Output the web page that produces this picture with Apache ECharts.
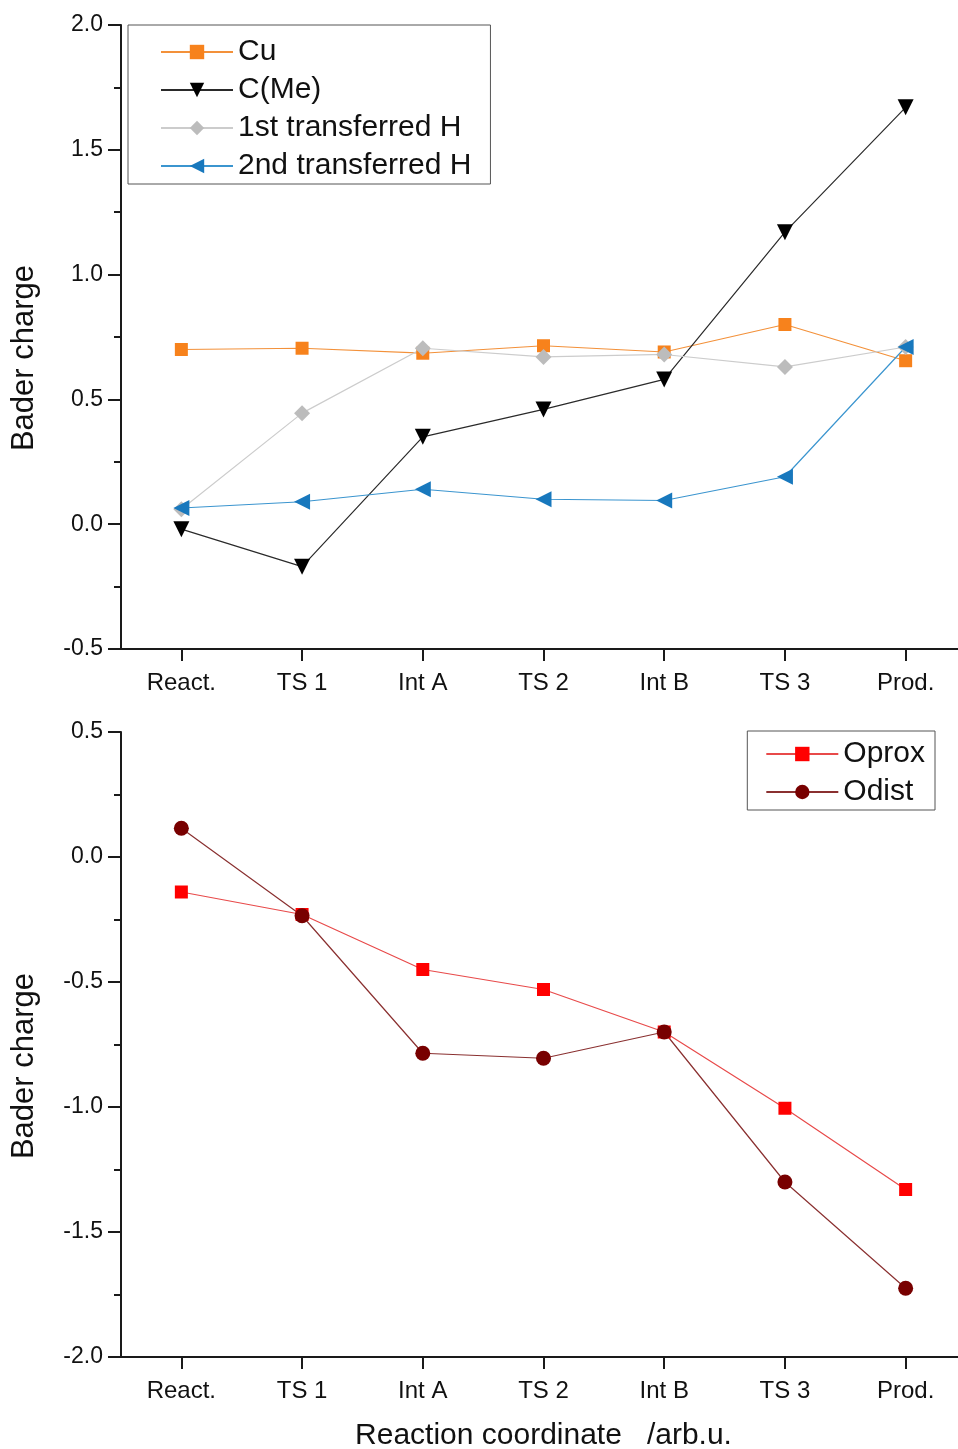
<!DOCTYPE html>
<html>
<head>
<meta charset="utf-8">
<script src="https://cdn.jsdelivr.net/npm/echarts@6/dist/echarts.min.js"></script>
<style>
html,body{margin:0;padding:0;background:#fff;}
#chart{width:958px;height:1449px;}
</style>
</head>
<body>
<div id="chart"></div>
<script>
const categories = ['React.', 'TS 1', 'Int A', 'TS 2', 'Int B', 'TS 3', 'Prod.'];
const cuValues   = [0.70, 0.705, 0.685, 0.715, 0.69, 0.80, 0.655];
const cMeValues  = [-0.02, -0.17, 0.35, 0.46, 0.58, 1.17, 1.67];
const h1Values   = [0.06, 0.445, 0.705, 0.67, 0.68, 0.63, 0.71];
const h2Values   = [0.065, 0.09, 0.14, 0.10, 0.095, 0.19, 0.71];
const oproxValues = [-0.14, -0.23, -0.45, -0.53, -0.70, -1.005, -1.33];
const odistValues = [0.115, -0.235, -0.785, -0.805, -0.70, -1.30, -1.725];
const topTicks = { min: -0.5, max: 2.0, interval: 0.5 };
const bottomTicks = { min: -2.0, max: 0.5, interval: 0.5 };

const FONT = '"Liberation Sans", Arial, sans-serif';
const AX = '#1a1a1a';

function xAxis(gridIndex) {
  return {
    type: 'category', gridIndex, data: categories, boundaryGap: true,
    axisLine: { show: true, onZero: false, lineStyle: { color: AX, width: 2 } },
    axisTick: { show: true, alignWithLabel: true, inside: false, length: 12, lineStyle: { color: AX, width: 2 } },
    axisLabel: { color: '#111', fontSize: 24, fontFamily: FONT, margin: 22 },
    splitLine: { show: false }
  };
}
function yAxis(gridIndex, t) {
  return {
    type: 'value', gridIndex, min: t.min, max: t.max, interval: t.interval,
    axisLine: { show: true, onZero: false, lineStyle: { color: AX, width: 2 } },
    axisTick: { show: true, inside: false, length: 13, lineStyle: { color: AX, width: 2 } },
    minorTick: { show: true, splitNumber: 2, length: 7, lineStyle: { color: AX, width: 2 } },
    axisLabel: { color: '#111', fontSize: 23, fontFamily: FONT, margin: 18, formatter: v => v.toFixed(1) },
    splitLine: { show: false }, minorSplitLine: { show: false }
  };
}
function lineSeries(name, data, idx, symbol, size, rotate, markerColor, lineColor) {
  return {
    name, type: 'line', data, xAxisIndex: idx, yAxisIndex: idx,
    symbol, symbolSize: size, symbolRotate: rotate, showAllSymbol: true,
    itemStyle: { color: markerColor, borderWidth: 0 },
    lineStyle: { color: lineColor, width: 1.2 },
    emphasis: { disabled: true }, z: 2
  };
}

const chart = echarts.init(document.getElementById('chart'), null, { renderer: 'canvas' });
chart.setOption({
  animation: false,
  backgroundColor: '#fff',
  textStyle: { fontFamily: FONT },
  grid: [
    { left: 121, top: 25, width: 845, height: 624, containLabel: false, outerBoundsMode: 'none' },
    { left: 121, top: 732, width: 845, height: 625, containLabel: false, outerBoundsMode: 'none' }
  ],
  xAxis: [
    xAxis(0),
    Object.assign(xAxis(1), {
      name: 'Reaction coordinate   /arb.u.', nameLocation: 'middle', nameGap: 64,
      nameTextStyle: { color: '#111', fontSize: 30, fontFamily: FONT }
    })
  ],
  yAxis: [yAxis(0, topTicks), yAxis(1, bottomTicks)],
  legend: [
    {
      orient: 'vertical', left: 128, top: 25,
      padding: [12, 19, 3, 32], borderColor: '#555', borderWidth: 1,
      itemWidth: 72, itemHeight: 18, itemGap: 8,
      textStyle: { fontSize: 30, fontFamily: FONT, color: '#111', lineHeight: 30 },
      data: ['Cu', 'C(Me)', '1st transferred H', '2nd transferred H']
    },
    {
      orient: 'vertical', right: 23, top: 731,
      padding: [8, 10, 3, 18], borderColor: '#555', borderWidth: 1,
      itemWidth: 72, itemHeight: 18, itemGap: 8,
      textStyle: { fontSize: 30, fontFamily: FONT, color: '#111', lineHeight: 30 },
      data: ['Oprox', 'Odist']
    }
  ],
  graphic: [
    { type: 'text', x: 24, y: 358, rotation: Math.PI / 2,
      style: { text: 'Bader charge', fontSize: 31, fontFamily: FONT, fill: '#111', align: 'center', verticalAlign: 'middle' } },
    { type: 'text', x: 24, y: 1066, rotation: Math.PI / 2,
      style: { text: 'Bader charge', fontSize: 31, fontFamily: FONT, fill: '#111', align: 'center', verticalAlign: 'middle' } }
  ],
  series: [
    lineSeries('Cu', cuValues, 0, 'rect', 13, 0, '#f7821c', '#f3913a'),
    lineSeries('C(Me)', cMeValues, 0, 'triangle', 16, 180, '#000000', '#2a2a2a'),
    lineSeries('1st transferred H', h1Values, 0, 'diamond', 16, 0, '#bcbcbc', '#cccccc'),
    lineSeries('2nd transferred H', h2Values, 0, 'triangle', 16, 90, '#1878bd', '#3b95cf'),
    lineSeries('Oprox', oproxValues, 1, 'rect', 13, 0, '#ff0000', '#e84a4a'),
    lineSeries('Odist', odistValues, 1, 'circle', 15, 0, '#780000', '#8a3030')
  ]
});
</script>
</body>
</html>
